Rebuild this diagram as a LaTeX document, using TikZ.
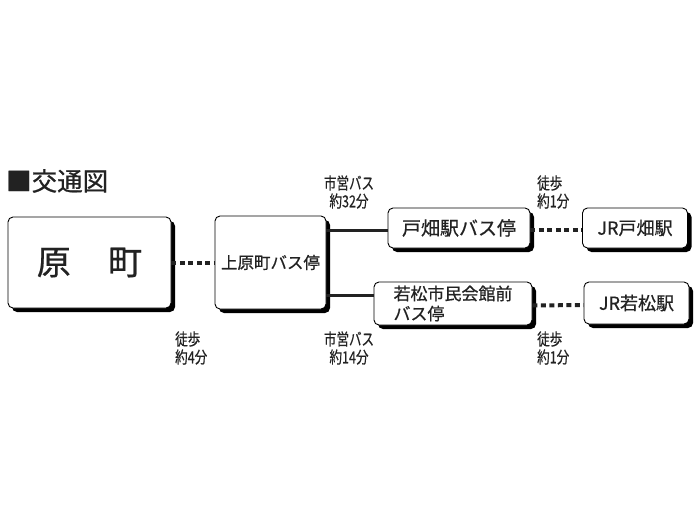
\documentclass[tikz,border=0pt]{standalone}
\usepackage{fontspec}
\setmainfont{Noto Sans CJK JP}
\newfontfamily\jpm[FakeBold=0.6]{Noto Sans CJK JP}
\newfontfamily\jpc[FakeStretch=0.76,FakeBold=0.5]{Noto Sans CJK JP}
\usetikzlibrary{shadows}
\definecolor{ink}{HTML}{222222}
\begin{document}
\begin{tikzpicture}[x=1pt,y=-1pt,
  box/.style={draw=black, line width=0.9pt, rounded corners=5pt, fill=white,
    drop shadow={shadow xshift=4pt, shadow yshift=-4pt, fill=black, opacity=1},
    inner sep=0pt, align=center, text=ink},
  walk/.style={line width=4pt, dash pattern=on 5pt off 3.5pt, color=ink},
  bus/.style={line width=3pt, color=ink},
  lbl/.style={font=\jpc\fontsize{16.5}{18}\selectfont, inner sep=0pt, text=ink}]
\useasboundingbox (0,0) rectangle (700,525);
% title
\node[anchor=west, inner sep=0pt, font=\jpm\fontsize{25.5}{28}\selectfont, text=ink] (title) at (6,181) {■交通図};
% boxes
\node[box, minimum width=163pt, minimum height=91pt, font=\jpm\fontsize{34}{40}\selectfont] (hara) at (89.5,262.5) {原\hspace{1.1em}町};
\node[box, minimum width=111pt, minimum height=93pt, font=\jpm\fontsize{16.5}{19}\selectfont] (kami) at (270.5,262.5) {上原町バス停};
\node[box, minimum width=142pt, minimum height=40pt, font=\jpm\fontsize{19}{22}\selectfont] (tobata) at (459,228) {戸畑駅バス停};
\node[box, minimum width=158pt, minimum height=43pt, align=left, font=\jpm\fontsize{17}{20}\selectfont] (waka) at (453,303.5) {若松市民会館前\\バス停};
\node[box, minimum width=105pt, minimum height=40pt, font=\jpm\fontsize{18}{21}\selectfont] (jrt) at (635,228) {JR戸畑駅};
\node[box, minimum width=105pt, minimum height=42pt, font=\jpm\fontsize{18}{21}\selectfont] (jrw) at (636.5,303) {JR若松駅};
% connectors
\coordinate (wk) at ([yshift=8pt]waka.west);
\coordinate (tb) at ([yshift=-2pt]tobata.west);
\draw[walk] (hara.east) -- (kami.west);
\draw[bus] (kami.east |- tb) -- (tb);
\draw[bus] (kami.east |- wk) -- (wk);
\draw[walk] ([yshift=-2pt]tobata.east) -- ([yshift=-2pt]jrt.west);
\draw[walk] ([yshift=-2pt]waka.east) -- ([yshift=-2pt]jrw.west);
% labels
\node[lbl, align=center] (l1) at (349,192) {市営バス\\約32分};
\node[lbl, align=center] (l2) at (349,348) {市営バス\\約14分};
\node[lbl, align=left, anchor=west] (l3) at (537,192) {徒歩\\約1分};
\node[lbl, align=left, anchor=west] (l4) at (537,348) {徒歩\\約1分};
\node[lbl, align=left, anchor=west] (l5) at (175,348) {徒歩\\約4分};
\end{tikzpicture}
\end{document}
